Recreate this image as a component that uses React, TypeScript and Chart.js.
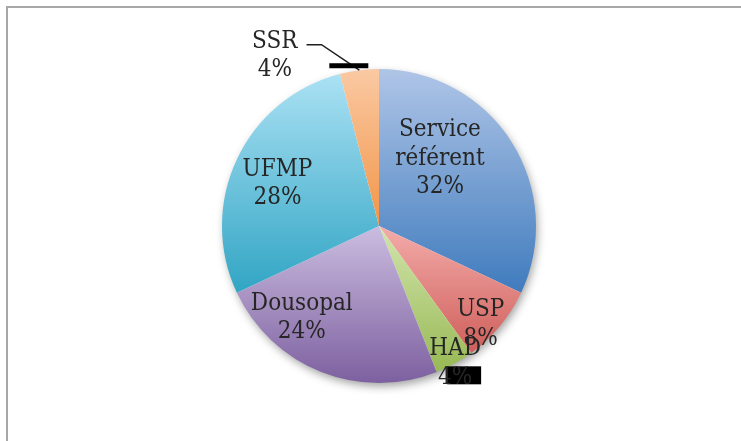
import React, { useEffect, useRef } from "react";
import { Chart, registerables } from "chart.js";
Chart.register(...registerables);

// ---- data ----
const categories = ["Service référent", "USP", "HAD", "Dousopal", "UFMP", "SSR"];
const labelLines = [["Service", "référent"], ["USP"], ["HAD"], ["Dousopal"], ["UFMP"], ["SSR"]];
const values = [32, 8, 4, 24, 28, 4];
const percentLabels = ["32%", "8%", "4%", "24%", "28%", "4%"];

// ---- style ----
const topColors = ["#afc5e7", "#f3acaa", "#d2e5ad", "#cbbde0", "#abe1f4", "#fac9a3"];
const bottomColors = ["#3f7bbd", "#cf5e5a", "#98b955", "#7d60a0", "#31a5c4", "#f29548"];
const labelAngleDeg = [42, 134, 151, 220, 292.5, 328.5];
const labelDist = [0.58, 0.9, 1.0, 0.765, 0.7, 1.27];
const FONT = "24px 'DejaVu Serif Condensed', 'DejaVu Serif', serif";
const LINE_H = 28.5;
const TEXT_COLOR = "#262626";

function sliceGradient(ctx: any) {
  const chart = ctx.chart;
  const area = chart.chartArea;
  if (!area) return topColors[ctx.dataIndex];
  const cx = (area.left + area.right) / 2;
  const cy = (area.top + area.bottom) / 2;
  const r = Math.min(area.right - area.left, area.bottom - area.top) / 2;
  const total = values.reduce((a, b) => a + b, 0);
  let start = 0;
  for (let k = 0; k < ctx.dataIndex; k++) start += values[k] / total;
  const end = start + values[ctx.dataIndex] / total;
  const ys = [cy];
  const steps = 40;
  for (let s = 0; s <= steps; s++) {
    const a = (start + (end - start) * (s / steps)) * Math.PI * 2;
    ys.push(cy - Math.cos(a) * r);
  }
  const yMin = Math.min(...ys);
  const yMax = Math.max(...ys);
  const g = chart.ctx.createLinearGradient(0, yMin, 0, yMax);
  g.addColorStop(0, topColors[ctx.dataIndex]);
  g.addColorStop(1, bottomColors[ctx.dataIndex]);
  return g;
}

const shadowPlugin = {
  id: "pieShadow",
  beforeDatasetsDraw(chart: any) {
    const arc = chart.getDatasetMeta(0).data[0];
    if (!arc) return;
    const c = chart.ctx;
    c.save();
    c.shadowColor = "rgba(0,0,0,0.4)";
    c.shadowBlur = 10;
    c.shadowOffsetX = 2;
    c.shadowOffsetY = 4;
    c.fillStyle = "#ffffff";
    c.beginPath();
    c.arc(arc.x, arc.y, arc.outerRadius - 1, 0, Math.PI * 2);
    c.fill();
    c.restore();
  },
};

const labelPlugin = {
  id: "sliceLabels",
  afterDatasetsDraw(chart: any) {
    const meta = chart.getDatasetMeta(0);
    const c = chart.ctx;
    c.save();
    c.font = FONT;
    c.fillStyle = TEXT_COLOR;
    c.textAlign = "center";
    c.textBaseline = "middle";
    meta.data.forEach((arc: any, i: number) => {
      const R = arc.outerRadius;
      const a = (labelAngleDeg[i] * Math.PI) / 180;
      const x = arc.x + Math.sin(a) * labelDist[i] * R;
      const y = arc.y - Math.cos(a) * labelDist[i] * R;
      const lines = [...labelLines[i], percentLabels[i]];
      const y0 = y - ((lines.length - 1) * LINE_H) / 2;
      // leader line for outside label (SSR)
      if (labelDist[i] > 1.1) {
        const mid = (arc.startAngle + arc.endAngle) / 2;
        const ex = arc.x + Math.cos(mid) * R;
        const ey = arc.y + Math.sin(mid) * R;
        const w = c.measureText(lines[0]).width;
        const sx = x + w / 2 + 9;
        const sy = y0 + 3;
        c.save();
        c.strokeStyle = "#1e1e1e";
        c.lineWidth = 1.5;
        c.beginPath();
        c.moveTo(sx, sy);
        c.lineTo(sx + 15, sy);
        c.lineTo(ex, ey);
        c.stroke();
        c.fillStyle = "#000";
        c.fillRect(ex - 30, ey - 7, 39, 5);
        c.restore();
      }
      if (i === 2) {
        c.save();
        c.fillStyle = "#000";
        c.fillRect(x - 8, y + 3, 34, 18);
        c.restore();
      }
      lines.forEach((t, k) => c.fillText(t, x, y0 + k * LINE_H));
    });
    c.restore();
  },
};

export default function App() {
  const ref = useRef<HTMLCanvasElement | null>(null);
  useEffect(() => {
    if (!ref.current) return;
    const chart = new Chart(ref.current, {
      type: "pie",
      data: {
        labels: categories,
        datasets: [
          {
            data: values,
            backgroundColor: sliceGradient as any,
            borderWidth: 0,
          },
        ],
      },
      options: {
        responsive: false,
        animation: false,
        devicePixelRatio: 1,
        layout: { padding: { left: 222, right: 205, top: 69, bottom: 58 } },
        plugins: { legend: { display: false }, tooltip: { enabled: false } },
      },
      plugins: [shadowPlugin, labelPlugin],
    });
    return () => chart.destroy();
  }, []);
  return (
    <div
      style={{
        position: "fixed",
        left: 0,
        top: 0,
        width: 741,
        height: 441,
        overflow: "hidden",
        background: "#fff",
      }}
    >
      <div
        style={{
          position: "absolute",
          left: 6,
          top: 6,
          width: 900,
          height: 600,
          border: "2px solid #a8a8a8",
        }}
      />
      <canvas
        ref={ref}
        width={741}
        height={441}
        style={{ position: "absolute", left: 0, top: 0, width: 741, height: 441 }}
      />
    </div>
  );
}
